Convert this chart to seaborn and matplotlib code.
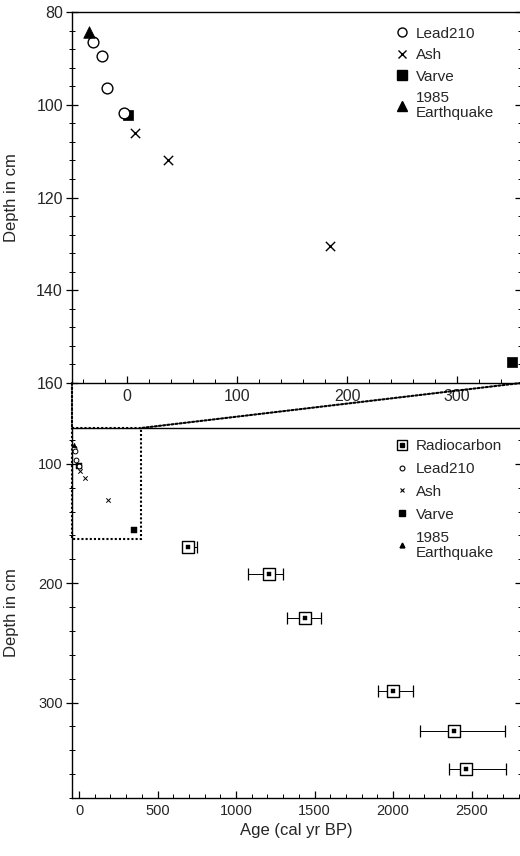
import numpy as np
import matplotlib
matplotlib.use("Agg")
import matplotlib.pyplot as plt
import seaborn as sns
from matplotlib.lines import Line2D
from matplotlib.patches import Rectangle, ConnectionPatch
from matplotlib.ticker import MultipleLocator

# ---- data ----
lead_age = [-31, -23, -18, -3]
lead_depth = [86.5, 89.5, 96.4, 101.8]
ash_age = [7, 37, 184]
ash_depth = [106.0, 112.0, 130.5]
varve_age = [1, 350]
varve_depth = [102.2, 155.4]
quake_age = [-35]
quake_depth = [84.3]
rc_age = [694, 1212, 1440, 1998, 2390, 2463]
rc_depth = [170, 192, 229, 290, 324, 356]
rc_err_lo = [660, 1078, 1327, 1902, 2172, 2359]
rc_err_hi = [750, 1301, 1540, 2129, 2713, 2718]

legend_top = ["Lead210", "Ash", "Varve", "1985\nEarthquake"]
legend_bottom = ["Radiocarbon", "Lead210", "Ash", "Varve", "1985\nEarthquake"]

sns.set_style("ticks")
plt.rcParams['font.family'] = ['Liberation Sans', 'DejaVu Sans']

W, H = 520, 856
fig = plt.figure(figsize=(5.2, 8.56), dpi=100)


def box(l, t, r, b):
    return [l / W, 1 - b / H, (r - l) / W, (b - t) / H]


ax1 = fig.add_axes(box(72, 12, 521, 383))
ax2 = fig.add_axes(box(72, 428, 521, 798))

# ---- top panel ----
sns.scatterplot(x=varve_age, y=varve_depth, ax=ax1, marker='s', s=60,
                color='black', edgecolor='black', linewidth=0.5, zorder=3, clip_on=False)
sns.scatterplot(x=lead_age, y=lead_depth, ax=ax1, marker='o', s=60,
                color='white', edgecolor='black', linewidth=1.0, zorder=4)
sns.scatterplot(x=ash_age, y=ash_depth, ax=ax1, marker='x', s=45,
                color='black', linewidth=1.0, zorder=4)
sns.scatterplot(x=quake_age, y=quake_depth, ax=ax1, marker='^', s=70,
                color='black', edgecolor='black', linewidth=0.5, zorder=5)

ax1.set_xlim(-50, 358)
ax1.set_ylim(160, 80)
ax1.xaxis.set_major_locator(MultipleLocator(100))
ax1.xaxis.set_minor_locator(MultipleLocator(20))
ax1.yaxis.set_major_locator(MultipleLocator(20))
ax1.yaxis.set_minor_locator(MultipleLocator(4))
ax1.set_xlabel("")
ax1.set_ylabel("Depth in cm", fontsize=12)
ax1.yaxis.set_label_coords(-0.118, 0.5)

h_top = [
    Line2D([], [], ls='none', marker='o', mfc='white', mec='black', ms=6.5, mew=1.0),
    Line2D([], [], ls='none', marker='x', color='black', ms=6, mew=1.0),
    Line2D([], [], ls='none', marker='s', color='black', ms=7),
    Line2D([], [], ls='none', marker='^', color='black', ms=7.5),
]
leg1 = ax1.legend(h_top, legend_top, loc='upper left', bbox_to_anchor=(0.718, 0.960),
                  frameon=False, fontsize=11, handlelength=1.0, handletextpad=0.4,
                  borderpad=0, borderaxespad=0, labelspacing=0.48)

# ---- bottom panel ----
ax2.errorbar(rc_age, rc_depth,
             xerr=[np.array(rc_age) - np.array(rc_err_lo), np.array(rc_err_hi) - np.array(rc_age)],
             fmt='none', ecolor='black', elinewidth=0.7, capsize=4, capthick=0.9, zorder=2)
sns.scatterplot(x=rc_age, y=rc_depth, ax=ax2, marker='s', s=75,
                color='white', edgecolor='black', linewidth=1.0, zorder=4)
sns.scatterplot(x=rc_age, y=rc_depth, ax=ax2, marker='s', s=6,
                color='black', edgecolor='black', linewidth=0.3, zorder=5)
sns.scatterplot(x=varve_age, y=varve_depth, ax=ax2, marker='s', s=18,
                color='black', edgecolor='black', linewidth=0.3, zorder=3)
sns.scatterplot(x=lead_age, y=lead_depth, ax=ax2, marker='o', s=12,
                color='white', edgecolor='black', linewidth=0.7, zorder=4)
sns.scatterplot(x=ash_age, y=ash_depth, ax=ax2, marker='x', s=10,
                color='black', linewidth=0.7, zorder=4)
sns.scatterplot(x=quake_age, y=quake_depth, ax=ax2, marker='^', s=12,
                color='black', edgecolor='black', linewidth=0.3, zorder=5)

ax2.set_xlim(-45, 2815)
ax2.set_ylim(380, 70)
ax2.xaxis.set_major_locator(MultipleLocator(500))
ax2.xaxis.set_minor_locator(MultipleLocator(100))
ax2.yaxis.set_major_locator(MultipleLocator(100))
ax2.yaxis.set_minor_locator(MultipleLocator(20))
ax2.set_xlabel("Age (cal yr BP)", fontsize=12)
ax2.xaxis.set_label_coords(0.5, -0.068)
ax2.set_ylabel("Depth in cm", fontsize=12)
ax2.yaxis.set_label_coords(-0.118, 0.5)

ax2.add_patch(Rectangle((-45, 70), 440, 92.8, fill=False, ec='black',
                        lw=1.5, ls=(0, (1, 1)), zorder=3, clip_on=False))

h_rc = (Line2D([], [], ls='none', marker='s', mfc='white', mec='black', ms=7, mew=1.0),
        Line2D([], [], ls='none', marker='s', color='black', ms=2.2))
h_bot = [
    h_rc,
    Line2D([], [], ls='none', marker='o', mfc='white', mec='black', ms=3.5, mew=0.8),
    Line2D([], [], ls='none', marker='x', color='black', ms=3.5, mew=0.8),
    Line2D([], [], ls='none', marker='s', color='black', ms=4),
    Line2D([], [], ls='none', marker='^', color='black', ms=3.5),
]
leg2 = ax2.legend(h_bot, legend_bottom, loc='upper left', bbox_to_anchor=(0.718, 0.970),
                  frameon=False, fontsize=11, handlelength=1.0, handletextpad=0.4,
                  borderpad=0, borderaxespad=0, labelspacing=0.58)
for lg in (leg1, leg2):
    for t in lg.get_texts():
        t.set_linespacing(1.1)

# ---- axes styling ----
for ax, fs in ((ax1, 11.5), (ax2, 10.5)):
    for sp in ax.spines.values():
        sp.set_visible(True)
        sp.set_linewidth(1.0)
        sp.set_color('black')
    ax.tick_params(axis='x', which='both', direction='in', bottom=True, top=False,
                   labelsize=fs, pad=4, color='black')
    ax.tick_params(axis='x', which='major', length=5, width=0.9)
    ax.tick_params(axis='x', which='minor', length=3, width=0.7)
    ax.tick_params(axis='y', which='both', direction='inout', left=True, right=True,
                   labelsize=fs, pad=2, color='black')
    ax.tick_params(axis='y', which='major', length=9, width=0.9)
    ax.tick_params(axis='y', which='minor', length=5, width=0.7)

# ---- connector lines from the top panel to the zoom rectangle ----
for (xa, ya), (xb, yb) in (((-50, 160), (-45, 70)), ((358, 160), (395, 70))):
    con = ConnectionPatch(xyA=(xa, ya), coordsA=ax1.transData,
                          xyB=(xb, yb), coordsB=ax2.transData,
                          color='black', lw=1.5, ls=(0, (1, 1)))
    fig.add_artist(con)

fig.savefig("out.png", dpi=100)
